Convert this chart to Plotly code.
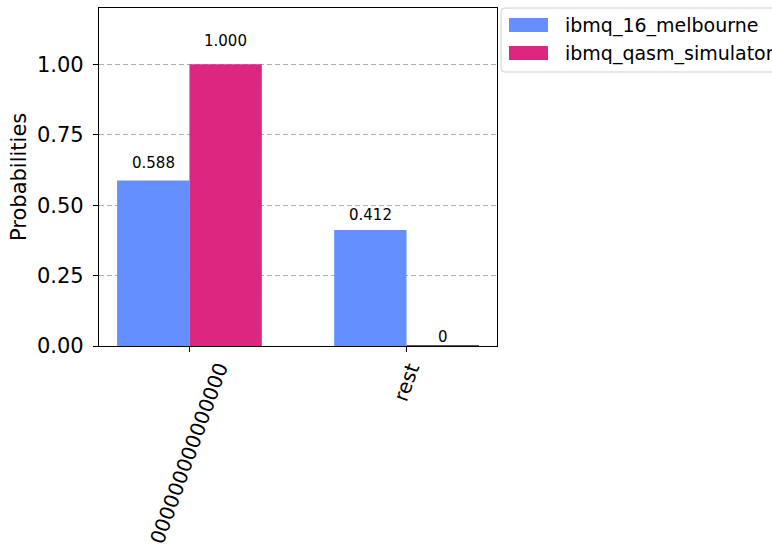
import plotly.graph_objects as go

categories = ["000000000000000", "rest"]
series_names = ["ibmq_16_melbourne", "ibmq_qasm_simulator"]
melbourne = [0.588, 0.412]
simulator = [1.000, 0.0]
colors = ["#648FFF", "#DC267F"]
y_ticks = [0.0, 0.25, 0.5, 0.75, 1.0]

W, H = 772, 548
L, R, T, B = 99, 497, 8, 346
pw, ph = R - L, B - T

def px(x):
    return (x - L) / pw

def py(y):
    return (B - y) / ph

FONT = "DejaVu Sans"
xpos = list(range(len(categories)))
series = [melbourne, simulator]

fig = go.Figure()
for name, vals, c in zip(series_names, series, colors):
    line_cols = ["rgba(0,0,0,0)" if v > 1e-8 else "#4a0a28" for v in vals]
    line_w = [0 if v > 1e-8 else 1 for v in vals]
    fig.add_trace(go.Bar(x=xpos, y=vals, name=name,
                         marker=dict(color=c, line=dict(color=line_cols, width=line_w)),
                         showlegend=False))

annotations = []
offsets = [-1/6, 1/6]
for vals, off in zip(series, offsets):
    for i, v in enumerate(vals):
        txt = "%.3f" % v if v > 1e-8 else "0"
        annotations.append(dict(x=i + off, y=1.05 * v, xref="x", yref="y", text=txt,
                                showarrow=False, yanchor="bottom", xanchor="center",
                                font=dict(family=FONT, size=15, color="black"), yshift=-2))
for i, cat in enumerate(categories):
    annotations.append(dict(x=i, y=0, xref="x", yref="paper", text=cat, textangle=-70,
                            showarrow=False, yanchor="top", xanchor="center", yshift=-11,
                            font=dict(family=FONT, size=20, color="black")))
annotations.append(dict(x=px(19), y=0.5, xref="paper", yref="paper", text="Probabilities",
                        textangle=-90, showarrow=False, xanchor="center", yanchor="middle",
                        font=dict(family=FONT, size=21, color="black")))

shapes = []
lx0, lx1, ly0, ly1, r = 501, 800, 8, 72, 4
path = (f"M {px(lx0+r)},{py(ly0)} L {px(lx1)},{py(ly0)} L {px(lx1)},{py(ly1)} "
        f"L {px(lx0+r)},{py(ly1)} Q {px(lx0)},{py(ly1)} {px(lx0)},{py(ly1-r)} "
        f"L {px(lx0)},{py(ly0+r)} Q {px(lx0)},{py(ly0)} {px(lx0+r)},{py(ly0)} Z")
shapes.append(dict(type="path", xref="paper", yref="paper", path=path,
                   line=dict(color="#d0d0d0", width=1), fillcolor="rgba(255,255,255,0.8)"))
for k, (name, c) in enumerate(zip(series_names, colors)):
    yc = 25 + 28 * k
    shapes.append(dict(type="rect", xref="paper", yref="paper", x0=px(509), x1=px(548),
                       y0=py(yc - 7), y1=py(yc + 7), fillcolor=c, line=dict(width=0)))
    annotations.append(dict(x=px(563), y=py(yc), xref="paper", yref="paper", text=name,
                            showarrow=False, xanchor="left", yanchor="middle",
                            font=dict(family=FONT, size=19, color="black")))

fig.update_layout(
    width=W, height=H,
    margin=dict(l=L, r=W - R, t=T, b=H - B, autoexpand=False),
    paper_bgcolor="white", plot_bgcolor="white",
    barmode="group", bargap=1/3, bargroupgap=0,
    font=dict(family=FONT, size=21, color="black"),
    annotations=annotations, shapes=shapes,
    showlegend=False,
)
fig.update_xaxes(range=[-0.4167, 1.4167], tickvals=xpos, ticktext=["" for _ in categories],
                 showticklabels=False, ticks="outside", ticklen=5, tickcolor="black",
                 showline=True, linecolor="black", linewidth=1.2, mirror=True,
                 showgrid=False, zeroline=False)
fig.update_yaxes(range=[0, 1.2], tickvals=y_ticks, tickformat=".2f",
                 ticks="outside", ticklen=5, tickcolor="black", ticklabelstandoff=5,
                 tickfont=dict(family=FONT, size=21, color="black"),
                 showline=True, linecolor="black", linewidth=1.2, mirror=True,
                 showgrid=True, gridcolor="#b0b0b0", griddash="5px,3px", gridwidth=1,
                 zeroline=False)

fig.write_html("out.html", config={"displayModeBar": False},
               post_script="document.body.style.margin='0';document.body.style.overflow='hidden';")
